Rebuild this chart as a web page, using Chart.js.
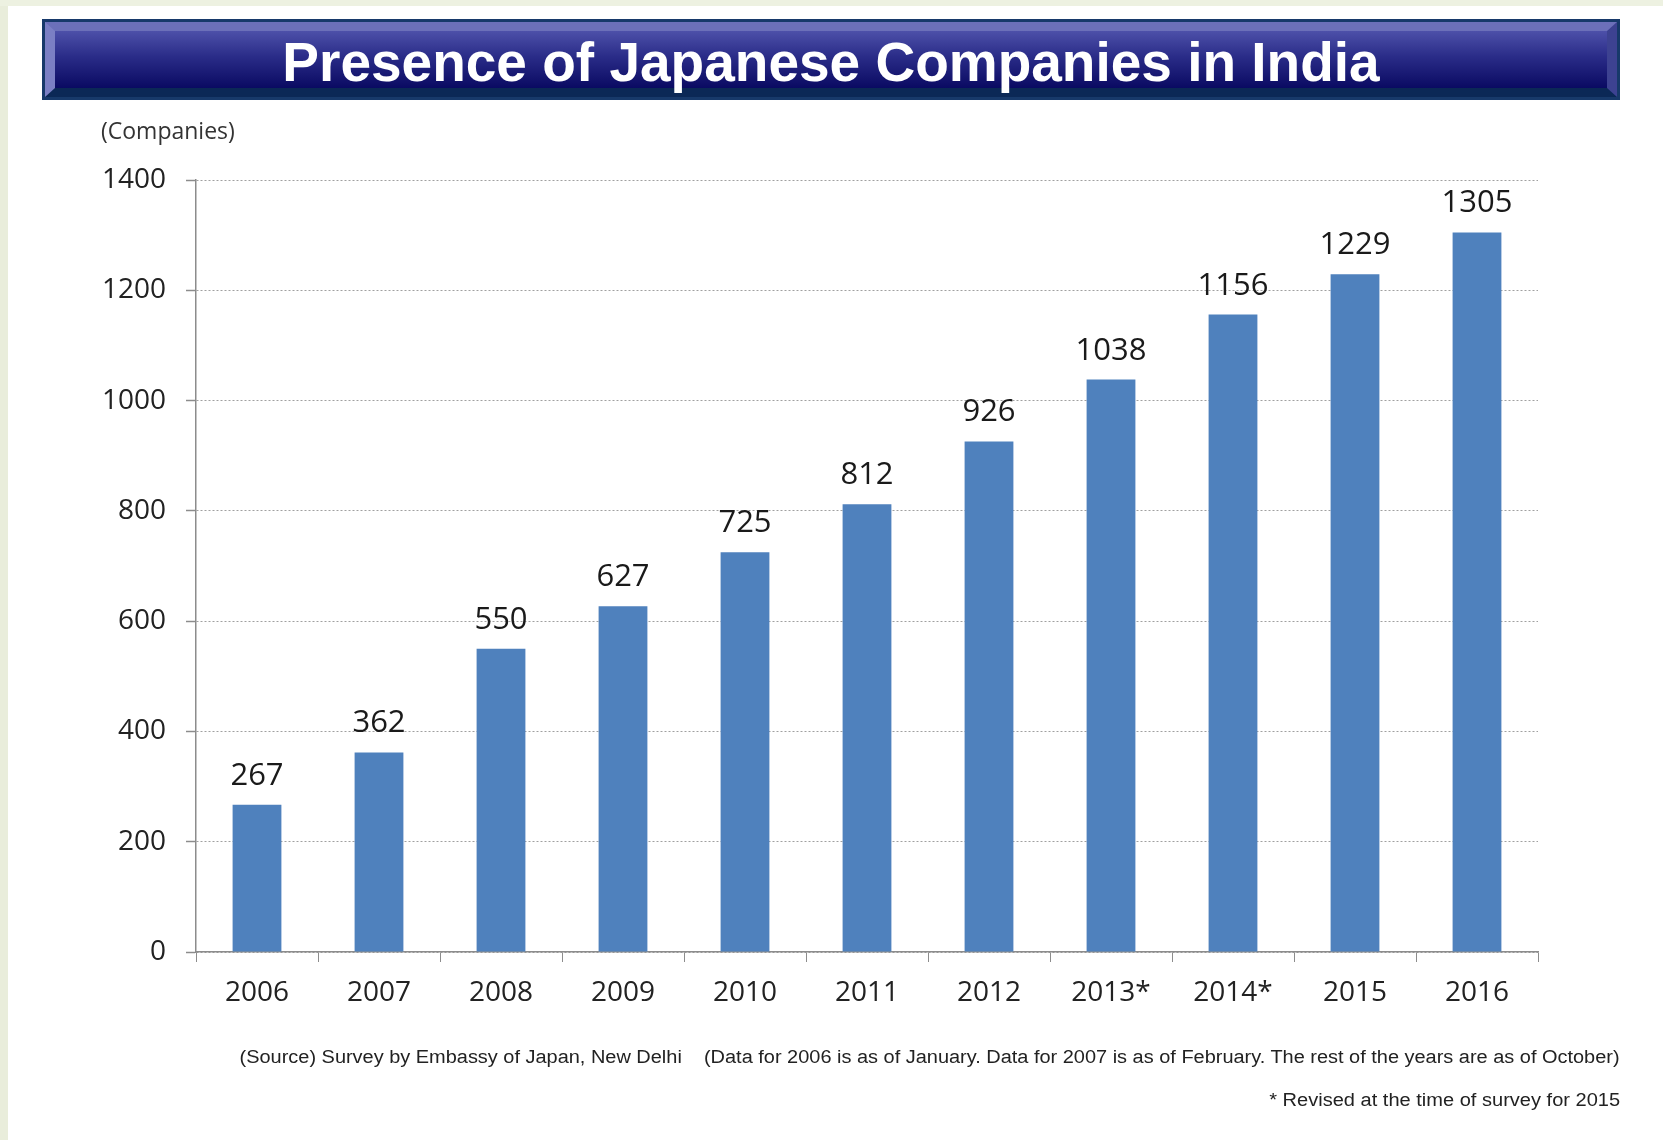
<!DOCTYPE html>
<html>
<head>
<meta charset="utf-8">
<script src="https://cdn.jsdelivr.net/npm/chart.js@4.4.1/dist/chart.umd.min.js"></script>
<style>
  html, body { margin: 0; padding: 0; background: #ffffff; }
  body { width: 1663px; height: 1140px; position: relative; overflow: hidden; }
  #stripLeft { position: absolute; left: 0; top: 0; width: 8px; height: 1140px; background: #e9eddb; }
  #stripTop { position: absolute; left: 0; top: 0; width: 1663px; height: 6px; background: #edf1e1; }
  #chartCanvas { position: absolute; left: 0; top: 0; }
  #titleBar {
    position: absolute; left: 42px; top: 19px; width: 1578px; height: 81px;
    box-sizing: border-box; border: 3px solid #17396a; background: #17396a;
  }
  #titleInner {
    width: 100%; height: 100%; box-sizing: border-box;
    border-style: solid; border-width: 9px 10px 9px 10px;
    border-color: #6c70b9 #3d4291 #0b2856 #7b7fc4;
    background: linear-gradient(to bottom, #4d50a9 0%, #2a2c88 45%, #0a0a62 100%);
    color: #ffffff; font-family: "Liberation Sans", Arial, sans-serif; font-weight: bold;
    font-size: 55px; line-height: 63px; text-align: center; white-space: nowrap;
  }
  .note { position: absolute; font-family: "Liberation Sans", Arial, sans-serif; color: #222; white-space: nowrap; }
  #unit { left: 101px; top: 114px; font-size: 23px; font-family: "Open Sans", sans-serif; color: #333; }
  #src { right: 43px; top: 1047px; font-size: 18px; transform-origin: right center; }
  #rev { right: 43px; top: 1090px; font-size: 18px; transform-origin: right center; }
</style>
</head>
<body>
<div id="stripLeft"></div>
<div id="stripTop"></div>
<canvas id="chartCanvas" width="1663" height="1140"></canvas>
<div id="titleBar"><div id="titleInner">Presence of Japanese Companies in India</div></div>
<div class="note" id="unit">(Companies)</div>
<div class="note" id="src">(Source) Survey by Embassy of Japan, New Delhi&nbsp;&nbsp;&nbsp;&nbsp;(Data for 2006 is as of January. Data for 2007 is as of February. The rest of the years are as of October)</div>
<div class="note" id="rev">* Revised at the time of survey for 2015</div>
<script>
// datos del gráfico
const years = ['2006', '2007', '2008', '2009', '2010', '2011', '2012', '2013*', '2014*', '2015', '2016'];
const companies = [267, 362, 550, 627, 725, 812, 926, 1038, 1156, 1229, 1305];
const yTicks = [0, 200, 400, 600, 800, 1000, 1200, 1400];

// ajustar ancho de las notas al pie
function fitWidth(id, target) {
    const el = document.getElementById(id);
    const w = el.getBoundingClientRect().width;
    el.style.transform = 'scaleX(' + (target / w) + ')';
}
fitWidth('src', 1380);
fitWidth('rev', 351);

// etiquetas con el valor encima de cada barra
const valueLabels = {
    id: 'valueLabels',
    afterDatasetsDraw(chart) {
        const ctx = chart.ctx;
        const meta = chart.getDatasetMeta(0);
        ctx.save();
        ctx.font = '31px "Open Sans", sans-serif';
        ctx.fillStyle = '#1a1a1a';
        ctx.textAlign = 'center';
        ctx.textBaseline = 'alphabetic';
        meta.data.forEach((bar, i) => {
            ctx.fillText(String(companies[i]), bar.x, bar.y - 20);
        });
        ctx.restore();
    }
};

const ctx = document.getElementById('chartCanvas').getContext('2d');
const barChart = new Chart(ctx, {
    type: 'bar',
    data: {
        labels: years,
        datasets: [{
            data: companies,
            backgroundColor: '#4f81bd',
            borderWidth: 0,
            barPercentage: 0.4,
            categoryPercentage: 1.0
        }]
    },
    options: {
        responsive: false,
        animation: false,
        devicePixelRatio: 1,
        layout: { padding: { left: 96, top: 180, right: 125, bottom: 128 } },
        plugins: { legend: { display: false }, tooltip: { enabled: false } },
        scales: {
            x: {
                afterFit: (scale) => { scale.height = 60; },
                grid: {
                    drawOnChartArea: false,
                    color: '#8c8c8c',
                    tickLength: 10,
                    offset: true
                },
                border: { color: '#8c8c8c', width: 1.5 },
                ticks: {
                    color: '#222',
                    padding: 14,
                    font: { family: '"Open Sans", sans-serif', size: 28 }
                }
            },
            y: {
                min: 0,
                max: 1400,
                afterFit: (scale) => { scale.width = 100; },
                afterBuildTicks: (scale) => { scale.ticks = yTicks.map(v => ({ value: v })); },
                grid: {
                    color: '#a0a0a0',
                    lineWidth: 1,
                    tickLength: 10,
                    tickColor: '#8c8c8c',
                    tickBorderDash: [],
                    tickWidth: 1.5
                },
                border: { color: '#8c8c8c', width: 1.5, dash: [2, 2] },
                ticks: {
                    color: '#222',
                    padding: 20,
                    font: { family: '"Open Sans", sans-serif', size: 28 },
                    callback: (value) => String(value)
                }
            }
        }
    },
    plugins: [valueLabels]
});
</script>
</body>
</html>
